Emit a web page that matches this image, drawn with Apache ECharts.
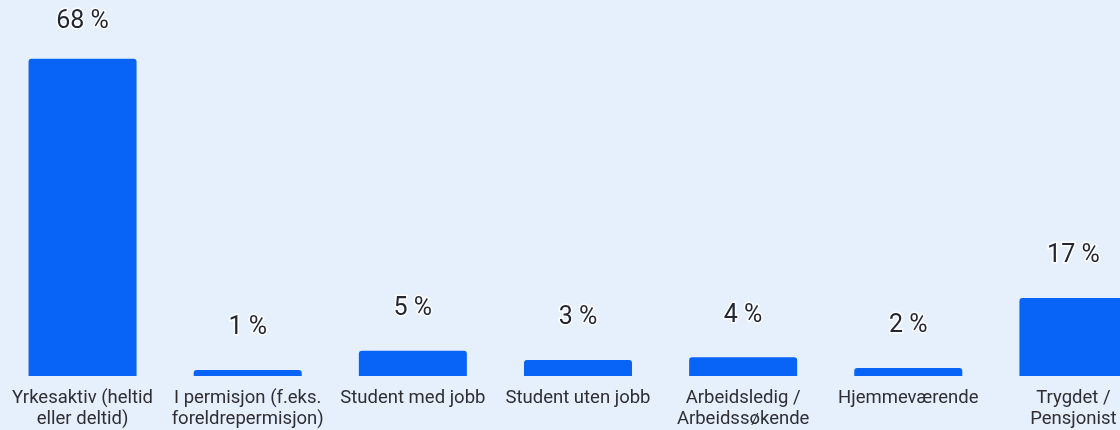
<!DOCTYPE html>
<html>
<head>
<meta charset="utf-8">
<script src="https://cdn.jsdelivr.net/npm/echarts@6/dist/echarts.min.js"></script>
<style>
html,body{margin:0;padding:0;overflow:hidden;background:#e6effc;}
#chart{width:1156px;height:430px;}
</style>
</head>
<body>
<div id="chart"></div>
<script>
const categories = [
  "Yrkesaktiv (heltid\neller deltid)",
  "I permisjon (f.eks.\nforeldrepermisjon)",
  "Student med jobb",
  "Student uten jobb",
  "Arbeidsledig /\nArbeidssøkende",
  "Hjemmeværende",
  "Trygdet /\nPensjonist"
];
const values = [67.9, 1.3, 5.4, 3.45, 4.0, 1.7, 16.7];

const chart = echarts.init(document.getElementById('chart'), null, {renderer: 'canvas'});
chart.setOption({
  backgroundColor: '#e6effc',
  animation: false,
  textStyle: {fontFamily: 'Roboto'},
  grid: {left: 0, right: 0, top: 49, bottom: 54},
  xAxis: {
    type: 'category',
    data: categories,
    axisLine: {show: false},
    axisTick: {show: false},
    axisLabel: {
      interval: 0,
      margin: 12,
      fontSize: 18.5,
      lineHeight: 21,
      color: '#2e2e33',
      fontFamily: 'Roboto'
    }
  },
  yAxis: {
    type: 'value',
    min: 0,
    max: 70,
    show: false,
    splitLine: {show: false}
  },
  series: [{
    type: 'bar',
    data: values.map((v, i) => i === 0 ? {value: v, label: {distance: 25}} : v),
    barWidth: 108,
    itemStyle: {color: '#0863f7', borderRadius: [3, 3, 0, 0]},
    label: {
      show: true,
      position: 'top',
      distance: 29.5,
      fontSize: 25,
      fontFamily: 'Roboto',
      color: '#232735',
      textBorderColor: '#ffffff',
      textBorderWidth: 3,
      formatter: p => Math.round(p.value) + ' %'
    }
  }]
});
</script>
</body>
</html>
